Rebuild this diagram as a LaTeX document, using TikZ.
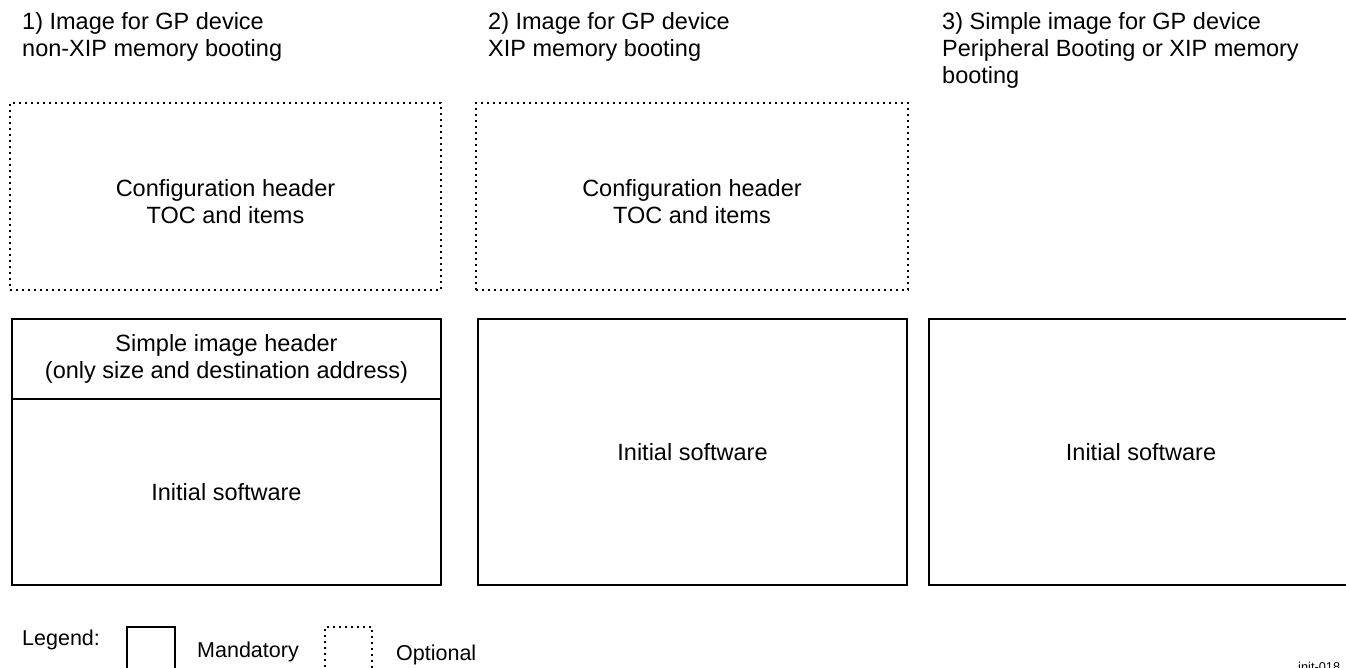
\documentclass[tikz,border=0pt]{standalone}
\usepackage{fontspec}
\setmainfont{Liberation Sans}
\newcommand{\mainfs}{\fontsize{23.5}{27}\selectfont}
\newcommand{\legfs}{\fontsize{21.5}{25}\selectfont}
\begin{document}
\begin{tikzpicture}[x=1pt,y=-1pt,
  solidbox/.style={draw=black,line width=2pt,inner sep=0pt,align=center,font=\mainfs},
  optbox/.style={draw=black,line width=2pt,dash pattern=on 2pt off 4pt,inner sep=0pt,align=center,font=\mainfs},
  boxtext/.style={inner sep=0pt,align=center,font=\mainfs},
  titletext/.style={anchor=north west,inner sep=0pt,align=left,font=\mainfs},
  legtext/.style={anchor=west,inner sep=0pt,font=\legfs}]
\useasboundingbox (0,0) rectangle (1346,667);
% titles
\node[titletext] (t1) at (22,12.5) {1) Image for GP device\\non-XIP memory booting};
\node[titletext] (t2) at (488,12.5) {2) Image for GP device\\XIP memory booting};
\node[titletext] (t3) at (942,12.5) {3) Simple image for GP device\\Peripheral Booting or XIP memory\\booting};
% optional configuration boxes
\node[optbox,minimum width=431pt,minimum height=187pt] (cfg1) at (225.5,196.5) {};
\node[boxtext] (cfg1t) at ([yshift=-5.5pt]cfg1.center) {Configuration header\\TOC and items};
\node[optbox,minimum width=432pt,minimum height=187pt] (cfg2) at (692,196.5) {};
\node[boxtext] (cfg2t) at ([yshift=-5.5pt]cfg2.center) {Configuration header\\TOC and items};
% image 1
\node[solidbox,minimum width=429pt,minimum height=80pt] (hdr1) at (226.5,359) {Simple image header\\(only size and destination address)};
\node[solidbox,minimum width=429pt,minimum height=186pt] (sw1) at (226.5,492) {Initial software};
% image 2
\node[solidbox,minimum width=429pt,minimum height=266pt] (sw2) at (692.5,452) {Initial software};
% image 3
\node[solidbox,minimum width=424pt,minimum height=266pt] (sw3) at (1141,452) {Initial software};
% legend
\node[legtext] (leg) at (22,640) {Legend:};
\node[solidbox,minimum width=48pt,minimum height=60pt] (legm) at (151,657) {};
\node[legtext] (legmt) at (197,652) {Mandatory};
\node[optbox,minimum width=47pt,minimum height=60pt] (lego) at (348.5,657) {};
\node[legtext] (legot) at (396,655) {Optional};
\node[anchor=base west,inner sep=0pt,font=\fontsize{12.8}{14}\selectfont] (ref) at (1298,671) {init-018};
\end{tikzpicture}
\end{document}
